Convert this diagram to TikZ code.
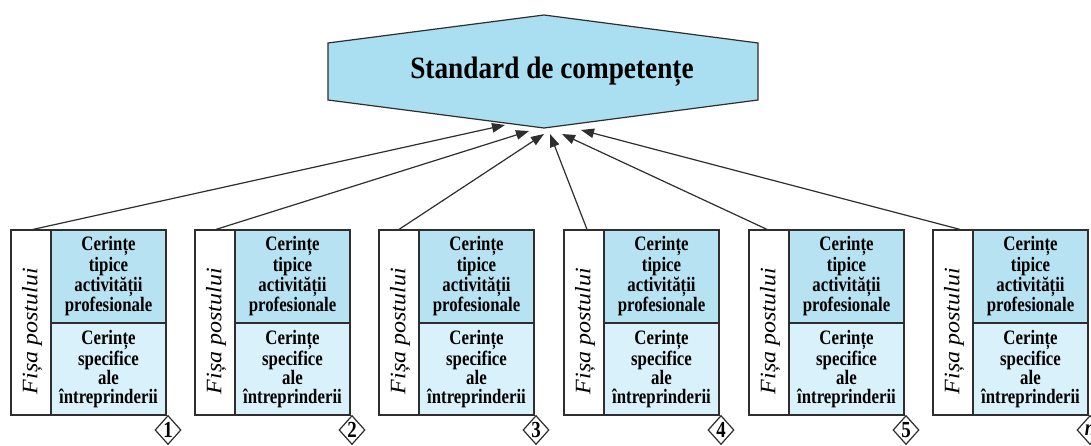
\documentclass[tikz,border=0pt]{standalone}
\usepackage{fontspec}
\setmainfont{Liberation Serif}
\newfontfamily\condfont[FakeStretch=0.82]{Liberation Serif}
\newfontfamily\titlefont[FakeStretch=0.88]{Liberation Serif}
\usetikzlibrary{arrows.meta,shapes.geometric}
\definecolor{hexfill}{HTML}{AADFF1}
\definecolor{topfill}{HTML}{B6E2F1}
\definecolor{botfill}{HTML}{D8F1FA}
\definecolor{linecol}{HTML}{2E2E2E}
\begin{document}
\begin{tikzpicture}[x=1pt,y=-1pt,
  frame/.style={draw=linecol, line width=1.2pt},
  postcol/.style={frame, fill=white, minimum width=40pt, minimum height=185pt, inner sep=0pt},
  cell/.style={frame, minimum width=115pt, inner sep=0pt, align=center,
    font=\condfont\bfseries\fontsize{20.5}{18.8}\selectfont},
  topcell/.style={cell, fill=topfill, minimum height=93pt},
  botcell/.style={cell, fill=botfill, minimum height=92pt},
  posttext/.style={rotate=90, inner sep=0pt, font=\fontsize{24}{24}\selectfont\itshape},
  numbox/.style={frame, fill=white, shape=diamond, minimum width=26pt, minimum height=29pt, inner sep=0pt},
  numtext/.style={font=\condfont\bfseries\fontsize{23}{23}\selectfont},
  feed/.style={draw=linecol, line width=1.2pt, -{Triangle[length=13pt,width=9.5pt]}},
]
\clip (0,0) rectangle (1091,446);
\fill[white] (0,0) rectangle (1091,446);
% hexagon
\coordinate (htop) at (544,15);
\coordinate (hur) at (758,43);
\coordinate (hlr) at (758,100);
\coordinate (hbot) at (544,128);
\coordinate (hll) at (328,100);
\coordinate (hul) at (328,43);
\draw[frame, fill=hexfill] (htop) -- (hur) -- (hlr) -- (hbot) -- (hll) -- (hul) -- cycle;
\node[anchor=base, inner sep=0pt, font=\titlefont\bfseries\fontsize{31}{31}\selectfont] (title) at (552,79) {Standard de competențe};
% boxes
\foreach \i/\L/\num/\dx/\tx/\ty in {1/11/1/2/505/125, 2/195/2/1/529/131, 3/379/3/0/544/134, 4/564/4/3/550/134, 5/749/5/-2/562/134, 6/933/{\textit{n}}/7/581/130}{
  \node[postcol] (f\i) at (\L+20,322.5) {};
  \node[posttext] (p\i) at (\L+21,331) {\scalebox{1}[0.92]{Fișa postului}};
  \node[topcell] (u\i) at (\L+97.5,276.5) {Cerințe\\tipice\\activității\\profesionale};
  \node[botcell] (l\i) at (\L+97.5,369) {Cerințe\\specifice\\ale\\întreprinderii};
  \node[numbox, label={[numtext]center:\num}] (n\i) at (\L+157,430) {};
  \coordinate (t\i) at (\tx,\ty);
  \draw[feed] ([xshift=\dx pt]f\i.north) -- (t\i);
}
\end{tikzpicture}
\end{document}
